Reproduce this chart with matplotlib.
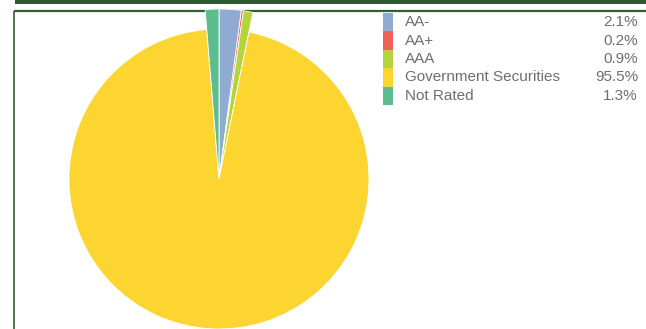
import matplotlib
matplotlib.use("Agg")
import matplotlib.pyplot as plt
from matplotlib.patches import Rectangle

ratings = ["AA-", "AA+", "AAA", "Government Securities", "Not Rated"]
weights = [2.1, 0.2, 0.9, 95.5, 1.3]
colors = ["#8fabd1", "#f26157", "#b4d43f", "#fcd530", "#5dbd8e"]

W, H = 646, 329
fig = plt.figure(figsize=(W / 100, H / 100), dpi=100)
fig.patch.set_facecolor("white")

# panel frame and header band (pixel coordinates, y down)
deco = fig.add_axes([0, 0, 1, 1])
deco.set_xlim(0, W)
deco.set_ylim(H, 0)
deco.axis("off")
deco.add_patch(Rectangle((15, 0), W - 15, 4, color="#2c5a30", lw=0))
deco.plot([14, W], [11, 11], color="#2f5f33", lw=1.6, solid_capstyle="butt")
deco.plot([14, 14], [11, H], color="#2f5f33", lw=1.2, solid_capstyle="butt")

# pie axes inside the frame, 1 data unit = 1 pixel
top = 12
ax = fig.add_axes([15 / W, 0, (W - 15) / W, (H - top) / H])
wedges, _ = ax.pie(weights, colors=colors, startangle=90, counterclock=False,
                   center=(219, H - 179), radius=150,
                   wedgeprops=dict(linewidth=0.6, edgecolor="white"))
for w, v in zip(wedges, weights):
    if v < 5:
        w.set_radius(170)
ax.set_xlim(15, W)
ax.set_ylim(0, H - top)
ax.set_aspect("auto")
ax.axis("off")

# legend
y0, step = 13, 18.4
for i, (lab, val, c) in enumerate(zip(ratings, weights, colors)):
    y = y0 + i * step
    deco.add_patch(Rectangle((383, y), 10, step, color=c, lw=0))
    deco.text(405, y + step / 2, lab, fontsize=11, color="#6e6e6e",
              family="Liberation Sans", va="center", ha="left")
    deco.text(638, y + step / 2, f"{val:.1f}%", fontsize=11, color="#6e6e6e",
              family="Liberation Sans", va="center", ha="right")

fig.savefig("out.png", dpi=100)
